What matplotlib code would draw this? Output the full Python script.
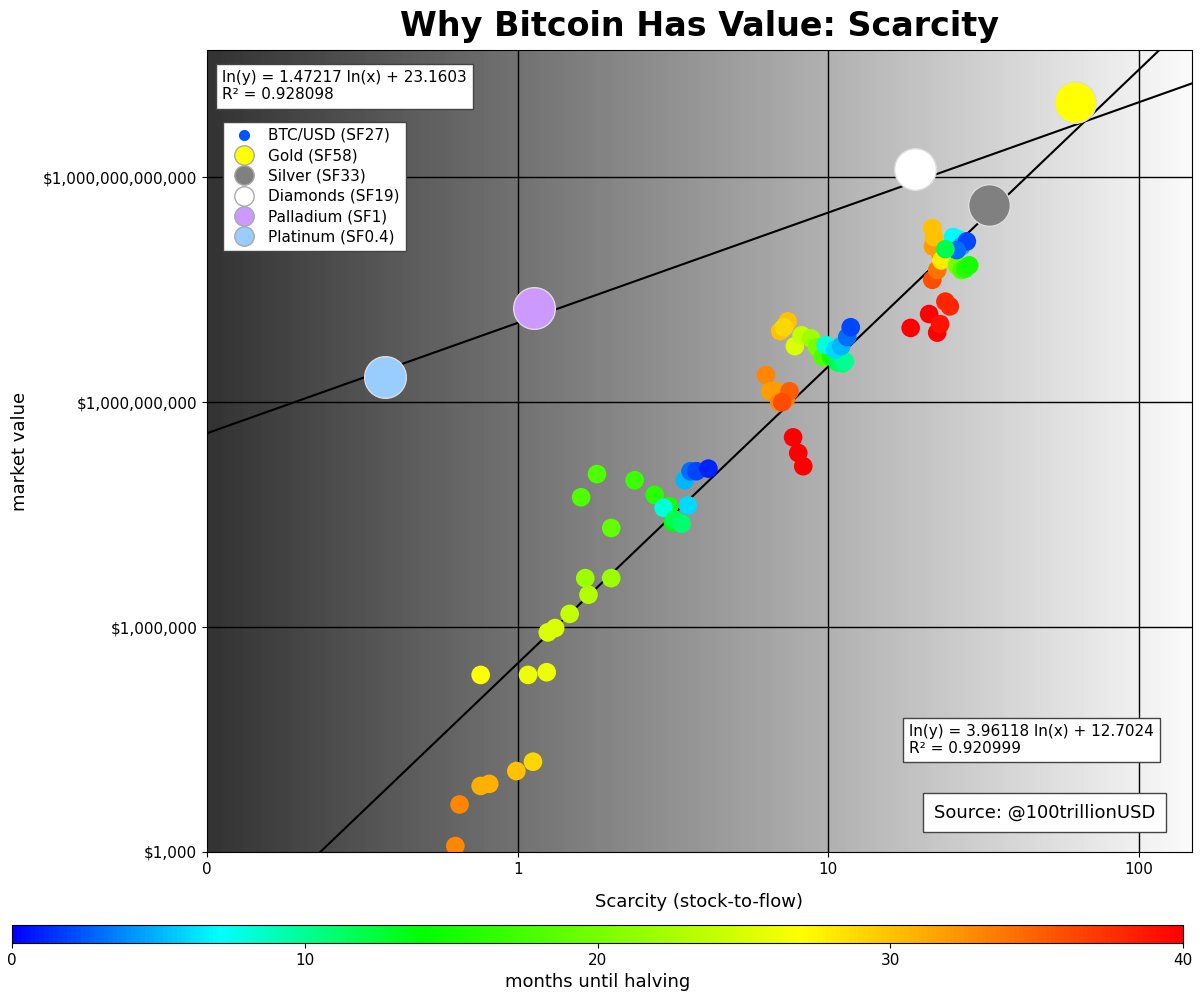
import numpy as np
import matplotlib
matplotlib.use('Agg')
from matplotlib import pyplot as plt
from matplotlib.lines import Line2D
from matplotlib.colors import LinearSegmentedColormap

# BTC monthly points: stock-to-flow, market value, months until halving
btc_sf = [0.63, 0.65, 0.76, 0.81, 0.99, 1.12, 0.76, 1.08, 1.24, 1.25, 1.32, 1.47, 1.69, 1.65, 2.0,
          2.0, 1.6, 1.8, 2.38, 2.76, 3.07, 3.16, 2.95, 3.2, 3.37, 3.53, 3.45, 3.6, 3.76, 4.11,
          6.3, 6.5, 6.8, 6.95, 7.3, 7.5, 7.1, 7.7, 8.0, 8.3, 7.0, 7.4, 7.2, 7.8, 8.2, 8.8, 9.2,
          9.6, 10.2, 10.7, 11.1, 11.3, 9.8, 10.5, 11.0, 11.5, 11.8,
          18.4, 21.1, 22.4, 22.9, 23.8, 24.6, 21.6, 22.4, 23.0, 21.7, 21.6, 21.9, 23.1, 24.0,
          25.0, 25.9, 26.8, 27.5, 28.4, 25.6, 26.2, 25.2, 26.8, 27.9, 25.9, 23.8]
btc_mv = [1.2e3, 4.3e3, 7.6e3, 8.1e3, 1.2e4, 1.6e4, 2.3e5, 2.3e5, 2.5e5, 8.5e5, 9.7e5, 1.5e6, 2.7e6,
          4.5e6, 4.5e6, 2.1e7, 5.4e7, 1.1e8, 9.1e7, 5.8e7, 4.1e7, 2.5e7, 3.9e7, 2.7e7, 2.4e7,
          4.2e7, 9.1e7, 1.2e8, 1.2e8, 1.3e8,
          2.3e9, 1.4e9, 1.4e9, 1.0e9, 1.1e9, 1.4e9, 1.0e9, 3.4e8, 2.1e8, 1.4e8,
          8.9e9, 1.2e10, 1.0e10, 5.6e9, 7.8e9, 7.1e9, 5.4e9, 4.0e9, 4.1e9, 3.4e9,
          3.3e9, 3.5e9, 5.8e9, 5.0e9, 5.6e9, 7.4e9, 1.0e10,
          9.8e9, 1.5e10, 8.5e9, 1.1e10, 2.2e10, 1.9e10, 4.3e10, 5.8e10, 9.1e10, 1.2e11,
          2.1e11, 1.6e11, 7.8e10, 1.07e11, 1.1e11, 6.7e10, 5.8e10, 6.0e10, 6.7e10,
          1.4e11, 1.5e11, 1.6e11, 1.2e11, 1.4e11, 1.07e11, 1.1e11]
btc_months = [33, 33, 31, 31, 30, 29, 27, 26, 26, 25, 25, 24, 23, 22, 22, 19, 18, 18, 17, 16, 15,
              14, 8, 12, 11, 6, 5, 3, 2, 1,
              33, 32, 32, 33, 33, 35, 36, 40, 40, 40, 30, 30, 29, 25, 24, 22, 20, 18, 15, 12,
              11, 10, 8, 6, 5, 3, 2,
              40, 40, 40, 39, 38, 38, 36, 34, 33, 32, 30, 30, 28, 27, 24, 20, 18, 16, 15,
              10, 8, 7, 5, 2, 3, 12]

metals = ['Gold (SF58)', 'Silver (SF33)', 'Diamonds (SF19)', 'Palladium (SF1)', 'Platinum (SF0.4)']
metal_sf = [62, 33, 19, 1.13, 0.375]
metal_mv = [1.0e13, 4.3e11, 1.3e12, 1.8e10, 2.2e9]
metal_colors = ['#ffff00', '#808080', '#ffffff', '#cc99ff', '#99ccff']

cmap = LinearSegmentedColormap.from_list('halving', [
    (0.0, '#0000ff'), (7 / 40, '#00ffff'), (14 / 40, '#00ff00'),
    (27 / 40, '#ffff00'), (33 / 40, '#ff8800'), (1.0, '#ff0000')])

fig = plt.figure(figsize=(12, 10.08), dpi=100)
ax = fig.add_axes([0.1725, 0.1548, 0.8208, 0.7956])
ax.set_xscale('log')
ax.set_yscale('log')
xmin, xmax, ymin, ymax = 0.1, 148, 1e3, 5e13

grad = np.linspace(0.2, 0.98, 256).reshape(1, -1)
ax.imshow(grad, cmap='gray', vmin=0, vmax=1, aspect='auto', extent=[0, 1, 0, 1],
          transform=ax.transAxes, zorder=0)

for v in [1, 10, 100]:
    ax.axvline(v, color='black', lw=1, zorder=1)
for v in [1e6, 1e9, 1e12]:
    ax.axhline(v, color='black', lw=1, zorder=1)

xs = np.logspace(-1, np.log10(xmax), 200)
ax.plot(xs, np.exp(1.47217 * np.log(xs) + 23.1603), color='black', lw=1.5, zorder=2)
ax.plot(xs, np.exp(3.96118 * np.log(xs) + 12.7024), color='black', lw=1.5, zorder=2)

sc = ax.scatter(btc_sf, btc_mv, c=btc_months, cmap=cmap, vmin=0, vmax=40, s=180, zorder=3,
                edgecolors='none')
for sf, mv, c in zip(metal_sf, metal_mv, metal_colors):
    ax.scatter(sf, mv, s=900, color=c, edgecolors='#dddddd', zorder=4)

ax.set_xlim(xmin, xmax)
ax.set_ylim(ymin, ymax)
ax.set_xticks([0.1, 1, 10, 100])
ax.set_xticklabels(['0', '1', '10', '100'])
ax.set_yticks([1e3, 1e6, 1e9, 1e12])
ax.set_yticklabels(['$1,000', '$1,000,000', '$1,000,000,000', '$1,000,000,000,000'])
ax.minorticks_off()
ax.tick_params(labelsize=11)
ax.set_xlabel('Scarcity (stock-to-flow)', fontsize=13, labelpad=12)
ax.set_ylabel('market value', fontsize=13, labelpad=10)
ax.set_title('Why Bitcoin Has Value: Scarcity', fontsize=24, fontweight='bold', pad=10)

box = dict(facecolor='white', edgecolor='#444444', boxstyle='square,pad=0.4')
ax.text(0.015, 0.975, 'ln(y) = 1.47217 ln(x) + 23.1603\nR² = 0.928098', transform=ax.transAxes,
        va='top', ha='left', fontsize=11, bbox=box, zorder=5)
ax.text(0.713, 0.16, 'ln(y) = 3.96118 ln(x) + 12.7024\nR² = 0.920999', transform=ax.transAxes,
        va='top', ha='left', fontsize=11, bbox=box, zorder=5)
ax.text(0.738, 0.038, 'Source: @100trillionUSD', transform=ax.transAxes, va='bottom', ha='left',
        fontsize=13, bbox=dict(facecolor='white', edgecolor='#444444', boxstyle='square,pad=0.6'),
        zorder=5)

handles = [Line2D([], [], marker='o', ls='', color='#0055ff', markersize=7)]
handles += [Line2D([], [], marker='o', ls='', color=c, markeredgecolor='#aaaaaa', markersize=14)
            for c in metal_colors]
leg = ax.legend(handles, ['BTC/USD (SF27)'] + metals, loc='upper left',
                bbox_to_anchor=(0.008, 0.92), fontsize=11, frameon=True, fancybox=False,
                framealpha=1, edgecolor='#444444', handletextpad=0.6, labelspacing=0.35)
leg.set_zorder(5)

cax = fig.add_axes([0.01, 0.0645, 0.976, 0.018])
cb = fig.colorbar(sc, cax=cax, orientation='horizontal')
cb.set_ticks([0, 10, 20, 30, 40])
cb.ax.tick_params(labelsize=11)
cb.set_label('months until halving', fontsize=13)

plt.savefig('out.png', dpi=100)
